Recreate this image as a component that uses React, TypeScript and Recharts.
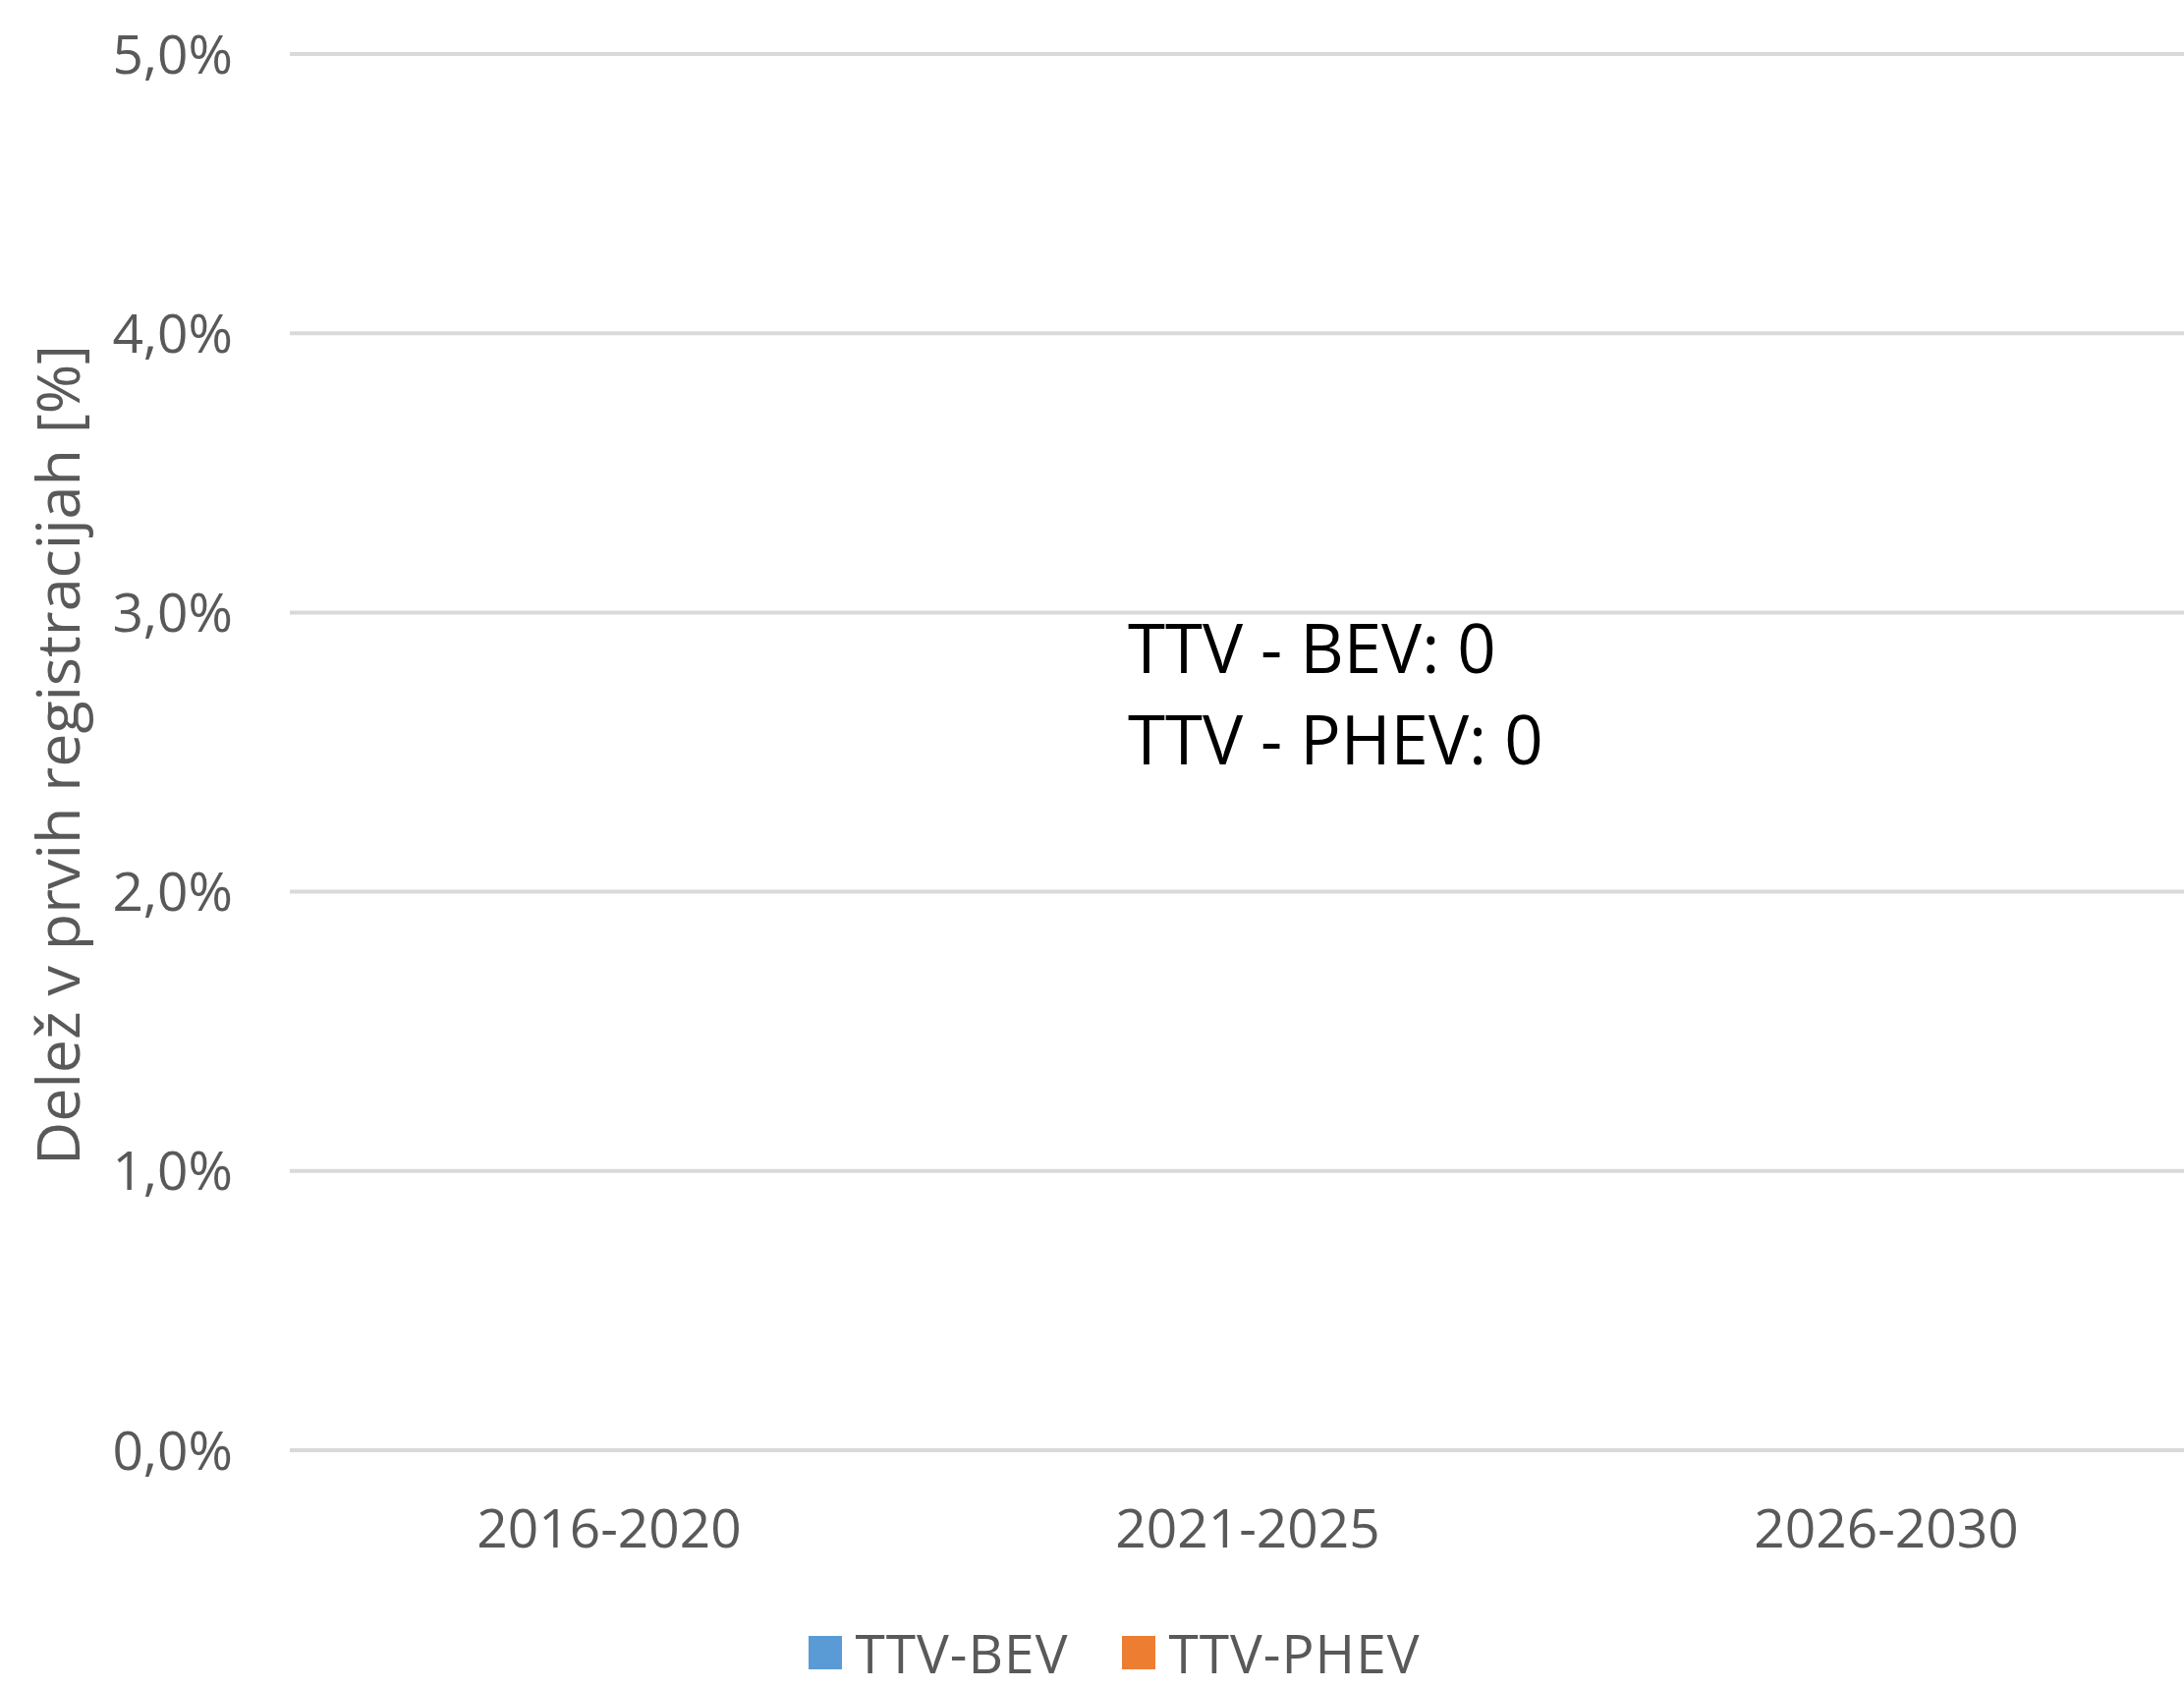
import { Bar, BarChart, CartesianGrid, Legend, Tooltip, XAxis, YAxis } from "recharts"

const periods = ["2016-2020", "2021-2025", "2026-2030"]
const bevShare = [0, 0, 0]
const phevShare = [0, 0, 0]
const seriesKeys = ["bev", "phev"]
const seriesNames = ["TTV-BEV", "TTV-PHEV"]
const seriesColors = ["#5b9bd5", "#ed7d31"]
const yTicks = [0, 0.01, 0.02, 0.03, 0.04, 0.05]
const yTitle = "Delež v prvih registracijah [%]"

const data = periods.map((period, i) => ({ period, bev: bevShare[i], phev: phevShare[i] }))

const FONT = "'Open Sans', sans-serif"
const GREY = "#595959"

const fmtPct = (v: number) => (v * 100).toFixed(1).replace(".", ",") + "%"

const TipContent = ({ payload }: any) => {
  if (!payload || !payload.length) return null
  return (
    <div style={{ fontFamily: FONT, fontSize: 69, lineHeight: "93px", color: "#000", whiteSpace: "nowrap" }}>
      {payload.map((p: any) => (
        <div key={p.dataKey}>{String(p.name).replace("-", " - ")}: {p.value}</div>
      ))}
    </div>
  )
}

const LegendContent = ({ payload }: any) => (
  <div style={{ display: "flex", justifyContent: "center", alignItems: "center", height: 48, paddingLeft: 24, fontFamily: FONT, fontSize: 55, letterSpacing: 1, color: GREY }}>
    {(payload || []).map((p: any, i: number) => (
      <div key={p.value} style={{ display: "flex", alignItems: "center", marginLeft: i ? 55 : 0 }}>
        <span style={{ width: 34, height: 34, background: p.color, marginRight: 13, display: "inline-block" }} />
        <span style={{ lineHeight: "48px" }}>{p.value}</span>
      </div>
    ))}
  </div>
)

const YTitle = ({ viewBox }: any) => {
  const cx = viewBox.x + 57
  const cy = viewBox.y + viewBox.height / 2 + 3
  return (
    <text x={cx} y={cy} transform={`rotate(-90 ${cx} ${cy})`} textAnchor="middle" dominantBaseline="central"
      fontFamily={FONT} fontSize={61} fill={GREY}>
      {yTitle}
    </text>
  )
}

export default function App() {
  return (
    <div style={{ position: "fixed", left: 0, top: 0, width: 2223, height: 1718, overflow: "hidden", background: "#fff" }}>
      <BarChart width={2245} height={1718} data={data} margin={{ top: 55, right: 0, bottom: 12, left: 0 }}>
        <CartesianGrid vertical={false} stroke="#d9d9d9" strokeWidth={4} />
        <XAxis dataKey="period" axisLine={false} tickLine={false} tickSize={0} tickMargin={60} height={182}
          tick={{ fill: GREY, fontSize: 55, fontFamily: FONT }} />
        <YAxis width={295} domain={[0, 0.05]} ticks={yTicks} tickFormatter={fmtPct} axisLine={false} tickLine={false}
          tickSize={0} tickMargin={58} tick={{ fill: GREY, fontSize: 55, fontFamily: FONT }} label={<YTitle />} />
        <Tooltip content={<TipContent />} active defaultIndex={1} cursor={false} position={{ x: 1148, y: 612 }}
          isAnimationActive={false} wrapperStyle={{ outline: "none" }} />
        <Legend verticalAlign="bottom" height={48} content={<LegendContent />} />
        {seriesKeys.map((k, i) => (
          <Bar key={k} dataKey={k} name={seriesNames[i]} fill={seriesColors[i]} isAnimationActive={false} />
        ))}
      </BarChart>
    </div>
  )
}
